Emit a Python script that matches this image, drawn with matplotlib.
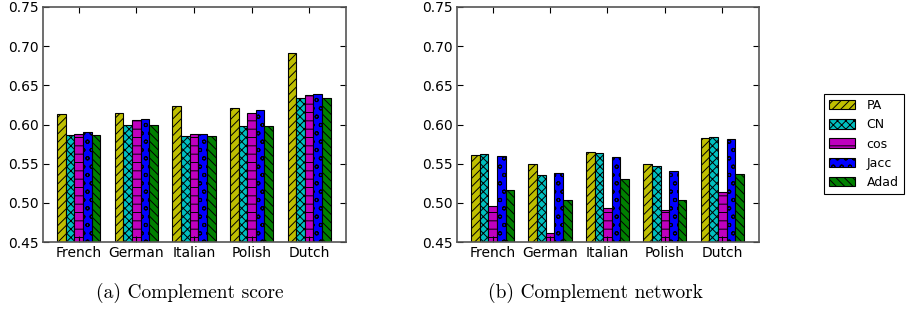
import matplotlib
matplotlib.use("Agg")
import matplotlib.pyplot as plt
import numpy as np

languages = ["French", "German", "Italian", "Polish", "Dutch"]
methods = ["PA", "CN", "cos", "Jacc", "Adad"]

# complement score
score_pa = [0.614, 0.615, 0.623, 0.621, 0.691]
score_cn = [0.586, 0.599, 0.585, 0.598, 0.634]
score_cos = [0.588, 0.606, 0.588, 0.615, 0.638]
score_jacc = [0.590, 0.607, 0.588, 0.619, 0.639]
score_adad = [0.586, 0.599, 0.585, 0.598, 0.634]

# complement network
net_pa = [0.561, 0.550, 0.565, 0.550, 0.583]
net_cn = [0.562, 0.535, 0.564, 0.547, 0.584]
net_cos = [0.496, 0.462, 0.493, 0.491, 0.514]
net_jacc = [0.560, 0.538, 0.558, 0.540, 0.582]
net_adad = [0.517, 0.504, 0.531, 0.503, 0.537]

colors = [(0.75, 0.75, 0), (0, 0.75, 0.75), (0.75, 0, 0.75), (0, 0, 1), (0, 0.5, 0)]
hatches = ["////", "xxxx", "--", "oo", "\\\\\\\\"]

plt.rcParams["hatch.linewidth"] = 0.7

fig = plt.figure(figsize=(9.07, 3.11), dpi=100)
W, H = 907.0, 311.0
ax1 = fig.add_axes([43 / W, 1 - 242 / H, (346 - 43) / W, (242 - 7) / H])
ax2 = fig.add_axes([457 / W, 1 - 242 / H, (759 - 457) / W, (242 - 7) / H])

x = np.arange(len(languages))
width = 0.15


def draw(ax, series):
    bars = []
    for i, vals in enumerate(series):
        b = ax.bar(x - 0.375 + i * width, np.array(vals) - 0.45, width, bottom=0.45,
                   align="edge", color=colors[i], edgecolor="black", linewidth=0.8,
                   hatch=hatches[i], label=methods[i])
        bars.append(b)
    ax.set_ylim(0.45, 0.75)
    ax.set_xlim(-0.62, 4.64)
    ax.set_yticks(np.arange(0.45, 0.751, 0.05))
    ax.set_yticklabels(["%.2f" % v for v in np.arange(0.45, 0.751, 0.05)])
    ax.set_xticks(x)
    ax.set_xticklabels(languages)
    ax.tick_params(direction="in", top=True, right=True, length=4, labelsize=10, pad=3)
    for s in ax.spines.values():
        s.set_color("#555555")
        s.set_linewidth(1.2)
    return bars


draw(ax1, [score_pa, score_cn, score_cos, score_jacc, score_adad])
bars = draw(ax2, [net_pa, net_cn, net_cos, net_jacc, net_adad])

leg = fig.legend(handles=bars, labels=methods, loc="upper left",
                 bbox_to_anchor=(824 / W, 1 - 94 / H), fontsize=9,
                 fancybox=False, edgecolor="black", framealpha=1,
                 handlelength=2.1, handleheight=0.8, borderpad=0.4,
                 labelspacing=0.5, handletextpad=0.9, borderaxespad=0)
leg.get_frame().set_linewidth(0.8)

fig.text(190 / W, 1 - 293 / H, "(a) Complement score", ha="center", va="center",
         fontsize=14, family="cmr10")
fig.text(595 / W, 1 - 293 / H, "(b) Complement network", ha="center", va="center",
         fontsize=14, family="cmr10")

fig.savefig("out.png", dpi=100)
